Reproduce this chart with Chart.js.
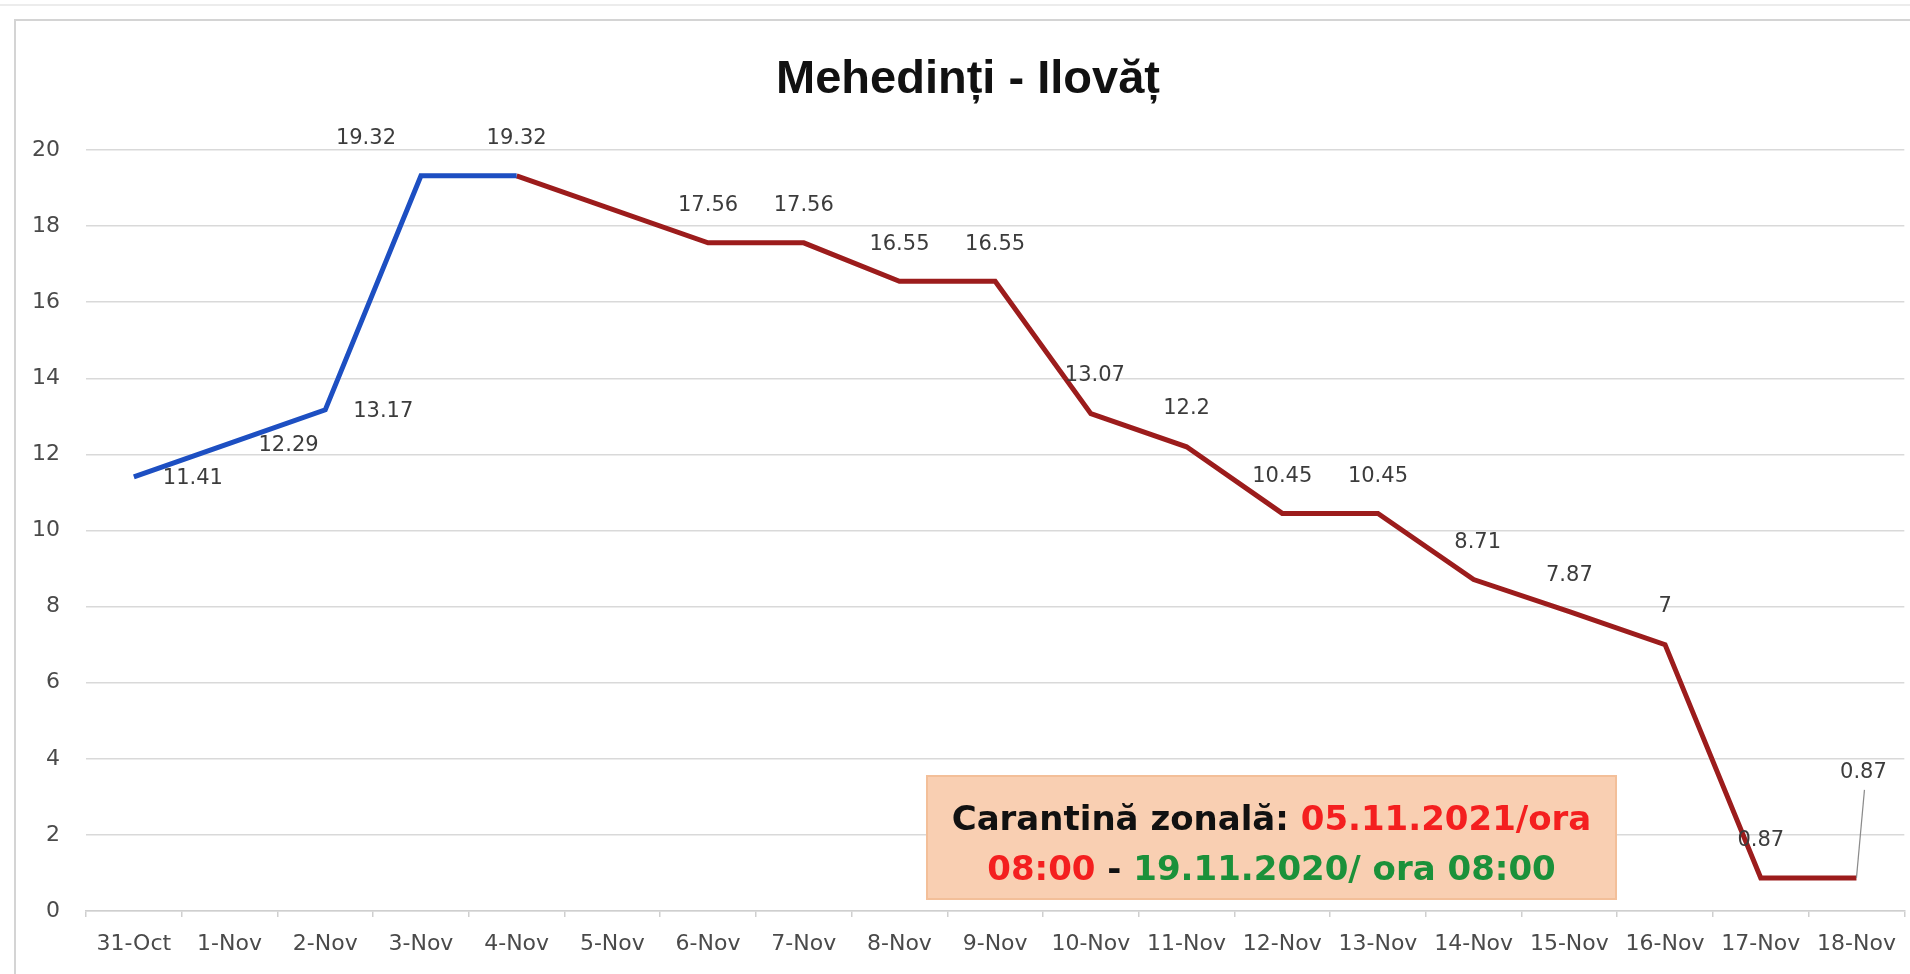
<!DOCTYPE html>
<html><head><meta charset="utf-8">
<script src="https://cdn.jsdelivr.net/npm/chart.js@4.4.1/dist/chart.umd.min.js"></script>
<style>html,body{margin:0;padding:0;background:#fff;overflow:hidden}#wrap{width:1910px;height:974px;position:relative}</style>
</head><body><div id="wrap"><canvas id="c" width="1910" height="974"></canvas></div>
<script>
// ---- data ----
const categories = ['31-Oct','1-Nov','2-Nov','3-Nov','4-Nov','5-Nov','6-Nov','7-Nov','8-Nov','9-Nov','10-Nov','11-Nov','12-Nov','13-Nov','14-Nov','15-Nov','16-Nov','17-Nov','18-Nov'];
const blueValues = [11.41,12.29,13.17,19.32,19.32,null,null,null,null,null,null,null,null,null,null,null,null,null,null];
const redValues  = [null,null,null,null,19.32,null,17.56,17.56,16.55,16.55,13.07,12.2,10.45,10.45,8.71,7.87,7,0.87,0.87];
const yTicks = [0,2,4,6,8,10,12,14,16,18,20];
const titleText = 'Mehedinți - Ilovăț';
const noteLine1 = [['Carantină zonală: ','#111111'],['05.11.2021/ora','#f41f1f']];
const noteLine2 = [['08:00','#f41f1f'],[' - ','#111111'],['19.11.2020/ ora 08:00','#1b913a']];

// ---- label placement (layout only) ----
const blueLabelPos = [[59,2],[59,2],[58,2],[-55,-37]];
const redLabelPos = {4:[0,-37],6:[0,-37],7:[0,-37],8:[0,-37],9:[0,-37],10:[4,-38],11:[0,-38],12:[0,-37],13:[0,-37],14:[4,-37],15:[0,-36],16:[0,-38],17:[0,-37],18:[7,-105]};
const leaderIndex = 18;

const FONT = '"DejaVu Sans", sans-serif';

const decor = {
  id: 'decor',
  beforeDraw(chart) {
    const ctx = chart.ctx;
    ctx.save();
    ctx.fillStyle = '#ffffff';
    ctx.fillRect(0,0,chart.width,chart.height);
    ctx.strokeStyle = '#ececec'; ctx.lineWidth = 2;
    ctx.beginPath(); ctx.moveTo(0,5); ctx.lineTo(1910,5); ctx.stroke();
    ctx.strokeStyle = '#d4d4d4'; ctx.lineWidth = 2;
    ctx.beginPath(); ctx.moveTo(15,985); ctx.lineTo(15,20); ctx.lineTo(1915,20); ctx.stroke();
    ctx.restore();
  },
  afterDatasetsDraw(chart) {
    const ctx = chart.ctx;
    ctx.save();
    ctx.font = '21px ' + FONT;
    ctx.fillStyle = '#3c3c3c';
    ctx.textAlign = 'center';
    ctx.textBaseline = 'middle';
    const m0 = chart.getDatasetMeta(0), m1 = chart.getDatasetMeta(1);
    blueLabelPos.forEach((p, i) => {
      if (!p || blueValues[i] == null) return;
      const el = m0.data[i];
      ctx.fillText(String(blueValues[i]), el.x + p[0], el.y + p[1]);
    });
    Object.keys(redLabelPos).forEach(k => {
      const i = +k, p = redLabelPos[k];
      if (redValues[i] == null) return;
      const el = m1.data[i];
      const lx = el.x + p[0], ly = el.y + p[1];
      ctx.fillText(String(redValues[i]), lx, ly);
      if (i === leaderIndex) {
        ctx.strokeStyle = '#8a8a8a'; ctx.lineWidth = 1.2;
        ctx.beginPath(); ctx.moveTo(lx + 1, ly + 17); ctx.lineTo(el.x, el.y); ctx.stroke();
      }
    });
    ctx.restore();
  },
  afterDraw(chart) {
    const ctx = chart.ctx;
    ctx.save();
    // title
    ctx.font = 'bold 47px "Liberation Sans", sans-serif';
    ctx.fillStyle = '#111111';
    ctx.textAlign = 'center';
    ctx.textBaseline = 'alphabetic';
    ctx.fillText(titleText, 968, 93);
    // note box
    const bx = 927, by = 776, bw = 689, bh = 123;
    ctx.fillStyle = '#f9cfb2';
    ctx.fillRect(bx, by, bw, bh);
    ctx.strokeStyle = '#f3bf99'; ctx.lineWidth = 2;
    ctx.strokeRect(bx, by, bw, bh);
    ctx.font = 'bold 34px ' + FONT;
    ctx.textAlign = 'left';
    const drawLine = (segs, y) => {
      const total = segs.reduce((s, g) => s + ctx.measureText(g[0]).width, 0);
      let x = bx + bw / 2 - total / 2;
      segs.forEach(g => { ctx.fillStyle = g[1]; ctx.fillText(g[0], x, y); x += ctx.measureText(g[0]).width; });
    };
    drawLine(noteLine1, 830);
    drawLine(noteLine2, 880);
    ctx.restore();
  }
};

new Chart(document.getElementById('c'), {
  type: 'line',
  data: {
    labels: categories,
    datasets: [
      { data: blueValues, borderColor: '#1d4fc2', borderWidth: 5, pointRadius: 0, spanGaps: true, tension: 0, borderJoinStyle: 'miter', borderCapStyle: 'butt' },
      { data: redValues, borderColor: '#9c1c1c', borderWidth: 5, pointRadius: 0, spanGaps: true, tension: 0, borderJoinStyle: 'miter', borderCapStyle: 'butt' }
    ]
  },
  options: {
    responsive: false,
    animation: false,
    devicePixelRatio: 1,
    layout: { padding: { top: 150, right: 4, left: 0, bottom: 0 } },
    plugins: { legend: { display: false }, tooltip: { enabled: false }, title: { display: false } },
    scales: {
      x: {
        offset: true,
        grid: { offset: true, drawOnChartArea: false, drawTicks: true, tickLength: 6, color: '#cfcfcf', lineWidth: 1.5 },
        border: { display: true, color: '#cfcfcf', width: 1.5 },
        ticks: { autoSkip: false, maxRotation: 0, minRotation: 0, padding: 14, color: '#4a4a4a', font: { family: FONT, size: 22 } },
        afterFit(scale) { scale.height = 63; }
      },
      y: {
        min: 0, max: 20,
        afterBuildTicks(scale) { scale.ticks = yTicks.map(v => ({ value: v })); },
        grid: { drawTicks: false, color: '#d9d9d9', lineWidth: 1.5 },
        border: { display: false },
        ticks: { padding: 26, color: '#4a4a4a', font: { family: FONT, size: 22 } },
        afterFit(scale) { scale.width = 86; }
      }
    }
  },
  plugins: [decor]
});
</script>
</body></html>
